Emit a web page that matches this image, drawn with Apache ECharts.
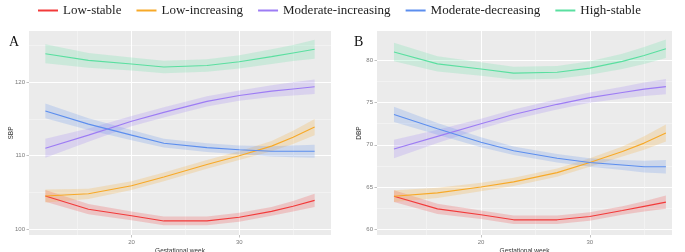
<!DOCTYPE html>
<html>
<head>
<meta charset="utf-8">
<script src="https://cdn.jsdelivr.net/npm/echarts@6/dist/echarts.min.js"></script>
<style>
  html, body { margin: 0; padding: 0; background: #fff; }
  #chart { width: 685px; height: 252px; }
</style>
</head>
<body>
<div id="chart"></div>
<script>
// gestational weeks where the fitted curves were read
const weeks = [12, 16, 20, 23, 27, 30, 33, 35, 37];
const groups = ['Low-stable', 'Low-increasing', 'Moderate-increasing', 'Moderate-decreasing', 'High-stable'];
const colors = ['#F23A3A', '#F7A928', '#9D7CF4', '#5C8EEE', '#5ADFA0'];

// panel A: SBP
const sbpLowStable = [104.5, 102.7, 101.8, 101.1, 101.1, 101.6, 102.4, 103.1, 103.9];
const sbpLowIncreasing = [104.5, 104.8, 105.9, 107.1, 108.8, 110.0, 111.3, 112.5, 113.9];
const sbpModIncreasing = [111.0, 112.8, 114.7, 115.9, 117.4, 118.2, 118.8, 119.1, 119.4];
const sbpModDecreasing = [116.1, 114.3, 112.8, 111.7, 111.1, 110.8, 110.6, 110.6, 110.6];
const sbpHighStable = [123.9, 123.0, 122.5, 122.1, 122.3, 122.8, 123.5, 124.0, 124.5];
// half widths of the confidence bands
const sbpCiLowStable = [0.8, 0.7, 0.6, 0.6, 0.6, 0.6, 0.6, 0.7, 0.9];
const sbpCiLowIncreasing = [0.9, 0.7, 0.6, 0.6, 0.6, 0.6, 0.7, 0.9, 1.1];
const sbpCiModIncreasing = [1.3, 0.9, 0.7, 0.7, 0.7, 0.7, 0.8, 0.9, 1.0];
const sbpCiModDecreasing = [1.0, 0.8, 0.7, 0.6, 0.6, 0.6, 0.7, 0.8, 0.9];
const sbpCiHighStable = [1.3, 1.0, 0.9, 0.85, 0.85, 0.9, 1.0, 1.1, 1.3];

// panel B: DBP
const dbpLowStable = [63.9, 62.4, 61.7, 61.1, 61.1, 61.5, 62.2, 62.7, 63.2];
const dbpLowIncreasing = [63.9, 64.3, 65.0, 65.6, 66.7, 67.9, 69.2, 70.2, 71.4];
const dbpModIncreasing = [69.5, 71.0, 72.5, 73.6, 74.8, 75.6, 76.2, 76.6, 76.9];
const dbpModDecreasing = [73.6, 71.9, 70.3, 69.3, 68.4, 67.9, 67.6, 67.4, 67.4];
const dbpHighStable = [81.0, 79.6, 79.0, 78.5, 78.6, 79.1, 79.9, 80.6, 81.4];
const dbpCiLowStable = [0.7, 0.6, 0.5, 0.5, 0.5, 0.5, 0.5, 0.6, 0.8];
const dbpCiLowIncreasing = [0.7, 0.6, 0.5, 0.5, 0.5, 0.5, 0.6, 0.8, 1.0];
const dbpCiModIncreasing = [1.1, 0.8, 0.6, 0.6, 0.6, 0.6, 0.7, 0.8, 0.9];
const dbpCiModDecreasing = [0.9, 0.7, 0.6, 0.5, 0.5, 0.5, 0.6, 0.7, 0.8];
const dbpCiHighStable = [1.1, 0.9, 0.8, 0.75, 0.75, 0.8, 0.9, 1.0, 1.1];

const xMajor = [20, 30];
const xMinor = [15, 25, 35];
const sbpMajor = [100, 110, 120];
const sbpMinor = [105, 115, 125];
const dbpMajor = [60, 65, 70, 75, 80];
const dbpMinor = [62.5, 67.5, 72.5, 77.5];

const sbpSeries = [sbpLowStable, sbpLowIncreasing, sbpModIncreasing, sbpModDecreasing, sbpHighStable];
const sbpCi = [sbpCiLowStable, sbpCiLowIncreasing, sbpCiModIncreasing, sbpCiModDecreasing, sbpCiHighStable];
const dbpSeries = [dbpLowStable, dbpLowIncreasing, dbpModIncreasing, dbpModDecreasing, dbpHighStable];
const dbpCi = [dbpCiLowStable, dbpCiLowIncreasing, dbpCiModIncreasing, dbpCiModDecreasing, dbpCiHighStable];

const chart = echarts.init(document.getElementById('chart'));

const labelStyle = { fontFamily: 'Liberation Sans', fontSize: 6, color: '#7a7a7a' };

function xAxes(gridIndex, min, max) {
  return [
    {
      type: 'value', gridIndex: gridIndex, min: min, max: max,
      name: 'Gestational week', nameLocation: 'middle', nameGap: 13, nameMoveOverlap: false,
      nameTextStyle: { fontFamily: 'Liberation Sans', fontSize: 6.5, color: '#333' },
      axisLine: { show: false },
      axisTick: { show: true, customValues: xMajor, length: 2.5, lineStyle: { color: '#999', width: 0.6 } },
      axisLabel: Object.assign({ customValues: xMajor, margin: 4 }, labelStyle),
      splitLine: { show: true, lineStyle: { color: '#fff', width: 1 } }
    },
    {
      type: 'value', gridIndex: gridIndex, min: min, max: max, position: 'top',
      axisLine: { show: false },
      axisTick: { show: false, customValues: xMinor },
      axisLabel: { show: false, customValues: xMinor },
      splitLine: { show: true, lineStyle: { color: '#f7f7f7', width: 0.6 } }
    }
  ];
}

function yAxes(gridIndex, min, max, major, minor, name) {
  return [
    {
      type: 'value', gridIndex: gridIndex, min: min, max: max,
      name: name, nameLocation: 'middle', nameGap: 14, nameMoveOverlap: false,
      nameTextStyle: { fontFamily: 'Liberation Sans', fontSize: 6.5, color: '#333' },
      axisLine: { show: false },
      axisTick: { show: true, customValues: major, length: 2.5, lineStyle: { color: '#999', width: 0.6 } },
      axisLabel: Object.assign({ customValues: major, margin: 4 }, labelStyle),
      splitLine: { show: true, lineStyle: { color: '#fff', width: 1 } }
    },
    {
      type: 'value', gridIndex: gridIndex, min: min, max: max, position: 'right',
      axisLine: { show: false },
      axisTick: { show: false, customValues: minor },
      axisLabel: { show: false, customValues: minor },
      splitLine: { show: true, lineStyle: { color: '#f7f7f7', width: 0.6 } }
    }
  ];
}

function panelSeries(values, ci, xIndex, yIndex) {
  const out = [];
  values.forEach((vals, i) => {
    const lo = vals.map((v, k) => v - ci[i][k]);
    const hi = vals.map((v, k) => v + ci[i][k]);
    // confidence band drawn as one polygon through the axis scales
    out.push({
      name: groups[i] + ' band', type: 'custom', xAxisIndex: xIndex, yAxisIndex: yIndex,
      silent: true, z: 1,
      data: weeks.map((w, k) => [w, lo[k], hi[k]]),
      encode: { x: 0, y: [1, 2] },
      renderItem: function (params, api) {
        if (params.dataIndex !== 0) return null;
        const pts = [];
        weeks.forEach((w, k) => pts.push(api.coord([w, hi[k]])));
        for (let k = weeks.length - 1; k >= 0; k--) pts.push(api.coord([weeks[k], lo[k]]));
        return {
          type: 'polygon',
          shape: { points: pts },
          style: { fill: colors[i], opacity: 0.22 }
        };
      }
    });
    out.push({
      name: groups[i], type: 'line', xAxisIndex: xIndex, yAxisIndex: yIndex,
      symbol: 'none', z: 3, color: colors[i],
      lineStyle: { width: 1.1, color: colors[i] },
      data: weeks.map((w, k) => [w, vals[k]])
    });
  });
  return out;
}

const option = {
  animation: false,
  legend: {
    data: groups.map((g, i) => ({ name: g, icon: 'path://M0,0 L20,0 L20,2 L0,2 Z', itemStyle: { color: colors[i] } })),
    left: 33, top: -1,
    itemWidth: 20, itemHeight: 2, itemGap: 15,
    textStyle: { fontFamily: 'Liberation Serif', fontSize: 13, color: '#222' }
  },
  title: [
    { text: 'A', left: 4, top: 30, textStyle: { fontFamily: 'Liberation Serif', fontSize: 14, fontWeight: 'normal', color: '#111' } },
    { text: 'B', left: 349, top: 30, textStyle: { fontFamily: 'Liberation Serif', fontSize: 14, fontWeight: 'normal', color: '#111' } }
  ],
  grid: [
    { left: 29, top: 31, width: 302, height: 204, show: true, backgroundColor: '#EBEBEB', borderWidth: 0, outerBoundsMode: 'none', containLabel: false },
    { left: 377, top: 31, width: 295, height: 204, show: true, backgroundColor: '#EBEBEB', borderWidth: 0, outerBoundsMode: 'none', containLabel: false }
  ],
  xAxis: xAxes(0, 10.48, 38.52).concat(xAxes(1, 10.44, 37.56)),
  yAxis: yAxes(0, 99.18, 127.0, sbpMajor, sbpMinor, 'SBP').concat(yAxes(1, 59.3, 83.5, dbpMajor, dbpMinor, 'DBP')),
  series: panelSeries(sbpSeries, sbpCi, 0, 0).concat(panelSeries(dbpSeries, dbpCi, 2, 2))
};

chart.setOption(option);
</script>
</body>
</html>
